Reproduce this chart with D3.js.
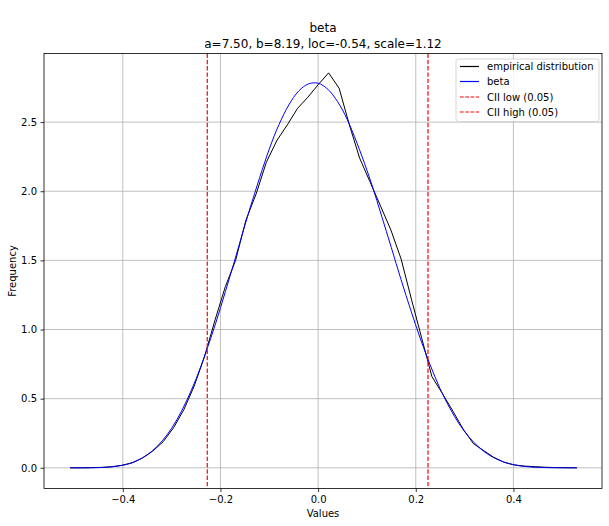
<!DOCTYPE html>
<html>
<head>
<meta charset="utf-8">
<script src="https://cdn.jsdelivr.net/npm/d3@7"></script>
<style>
  body { margin: 0; background: #fff; }
  svg { display: block; font-family: "DejaVu Sans", sans-serif; }
</style>
</head>
<body>
<svg id="chart" width="609" height="526"></svg>
<script>
// ---- data ----
const empX = [-0.508,-0.487,-0.466,-0.444,-0.423,-0.402,-0.381,-0.360,-0.339,-0.317,
  -0.296,-0.275,-0.254,-0.233,-0.211,-0.190,-0.169,-0.148,-0.127,-0.106,
  -0.084,-0.063,-0.042,-0.021,0.000,0.0215,0.043,0.064,0.085,0.106,
  0.127,0.149,0.170,0.191,0.212,0.233,0.254,0.276,0.297,0.318,
  0.339,0.360,0.381,0.403,0.424,0.445,0.466,0.487,0.508,0.530];
const empY = [0.000,0.000,0.001,0.003,0.008,0.018,0.036,0.070,0.120,0.190,
  0.290,0.420,0.590,0.800,1.070,1.310,1.500,1.790,1.980,2.210,
  2.370,2.480,2.600,2.680,2.770,2.856,2.745,2.480,2.240,2.070,
  1.900,1.720,1.510,1.220,0.940,0.660,0.540,0.410,0.280,0.175,
  0.125,0.075,0.040,0.020,0.012,0.008,0.004,0.002,0.001,0.000];
const betaX = [-0.508,-0.46,-0.42,-0.38,-0.34,-0.30,-0.26,-0.22,-0.18,-0.14,
  -0.10,-0.08,-0.06,-0.04,-0.02,0.00,0.02,0.04,0.06,0.10,0.14,0.18,0.22,0.26,
  0.30,0.34,0.38,0.42,0.46,0.50,0.530];
const betaY = [0.000,0.0008,0.008,0.038,0.121,0.286,0.558,0.936,1.391,1.871,
  2.305,2.483,2.624,2.724,2.776,2.781,2.737,2.647,2.516,2.152,1.707,1.247,0.831,0.497,
  0.262,0.117,0.042,0.011,0.002,0.000,0.000];
const ciiLow = -0.227, ciiHigh = 0.225;
const xTicks = [-0.4,-0.2,0.0,0.2,0.4];
const yTicks = [0.0,0.5,1.0,1.5,2.0,2.5];
const legendLabels = ["empirical distribution","beta","CII low (0.05)","CII high (0.05)"];
const titleLines = ["beta","a=7.50, b=8.19, loc=-0.54, scale=1.12"];

// ---- drawing ----
const svg = d3.select("#chart");
const L = 44, R = 602, T = 53.5, B = 488.5;
const x = d3.scaleLinear().domain([-0.5614, 0.5814]).range([L, R]);
const y = d3.scaleLinear().domain([-0.1496, 2.996]).range([B, T]);
const fmt = d => d3.format(".1f")(d).replace("-", "\u2212");

svg.append("rect").attr("width",609).attr("height",526).attr("fill","#fff");

// grid
const g = svg.append("g");
g.selectAll(".gx").data(xTicks).join("line")
  .attr("x1", d=>x(d)).attr("x2", d=>x(d)).attr("y1", T).attr("y2", B)
  .attr("stroke","#b0b0b0").attr("stroke-width",0.8);
g.selectAll(".gy").data(yTicks).join("line")
  .attr("y1", d=>y(d)).attr("y2", d=>y(d)).attr("x1", L).attr("x2", R)
  .attr("stroke","#b0b0b0").attr("stroke-width",0.8);

// axes
const xAxis = d3.axisBottom(x).tickValues(xTicks).tickFormat(fmt).tickSizeOuter(0).tickSize(3.5).tickPadding(3.5);
const yAxis = d3.axisLeft(y).tickValues(yTicks).tickFormat(fmt).tickSizeOuter(0).tickSize(3.5).tickPadding(3.5);
const gx = svg.append("g").attr("transform",`translate(0,${B})`).call(xAxis);
const gy = svg.append("g").attr("transform",`translate(${L},0)`).call(yAxis);
[gx, gy].forEach(a => {
  a.select(".domain").remove();
  a.selectAll("text").attr("font-size",10).attr("fill","#000").attr("font-family","DejaVu Sans, sans-serif");
  a.selectAll("line").attr("stroke","#000").attr("stroke-width",0.8);
});

// lines
const line = d3.line().x(d=>x(d[0])).y(d=>y(d[1]));
svg.append("path").datum(empX.map((v,i)=>[v,empY[i]]))
  .attr("d", line).attr("fill","none").attr("stroke","#000").attr("stroke-width",1);
svg.append("path").datum(betaX.map((v,i)=>[v,betaY[i]]))
  .attr("d", line.curve(d3.curveCatmullRom.alpha(0.5))).attr("fill","none").attr("stroke","#0000ff").attr("stroke-width",1);

[ciiLow, ciiHigh].forEach(v => {
  svg.append("line").attr("x1",x(v)).attr("x2",x(v)).attr("y1",T).attr("y2",B)
    .attr("stroke","#ff0000").attr("stroke-width",1.2).attr("stroke-dasharray","4.4,1.9");
});

// spines
svg.append("rect").attr("x",L).attr("y",T).attr("width",R-L).attr("height",B-T)
  .attr("fill","none").attr("stroke","#000").attr("stroke-width",0.8);

// titles
svg.append("text").attr("x",(L+R)/2).attr("y",32).attr("text-anchor","middle")
  .attr("font-size",12).text(titleLines[0]);
svg.append("text").attr("x",(L+R)/2).attr("y",47.5).attr("text-anchor","middle")
  .attr("font-size",12).text(titleLines[1]);
svg.append("text").attr("x",(L+R)/2).attr("y",517).attr("text-anchor","middle")
  .attr("font-size",10).text("Values");
svg.append("text").attr("transform",`translate(15.5,${(T+B)/2}) rotate(-90)`).attr("text-anchor","middle")
  .attr("font-size",10).text("Frequency");

// legend
const lg = svg.append("g");
lg.append("rect").attr("x",456).attr("y",59).attr("width",143).attr("height",62.5).attr("rx",2.5)
  .attr("fill","#fff").attr("fill-opacity",0.8).attr("stroke","#cccccc").attr("stroke-width",0.8);
const lStyles = [{c:"#000",d:null},{c:"#0000ff",d:null},{c:"#ff0000",d:"3.7,1.6"},{c:"#ff0000",d:"3.7,1.6"}];
const lYs = [66.5, 81.5, 97, 112];
legendLabels.forEach((t,i) => {
  const ln = lg.append("line").attr("x1",460).attr("x2",479).attr("y1",lYs[i]).attr("y2",lYs[i])
    .attr("stroke",lStyles[i].c).attr("stroke-width",1.2);
  if (lStyles[i].d) ln.attr("stroke-dasharray",lStyles[i].d);
  lg.append("text").attr("x",487).attr("y",lYs[i]+3.6).attr("font-size",10).text(t);
});
</script>
</body>
</html>
